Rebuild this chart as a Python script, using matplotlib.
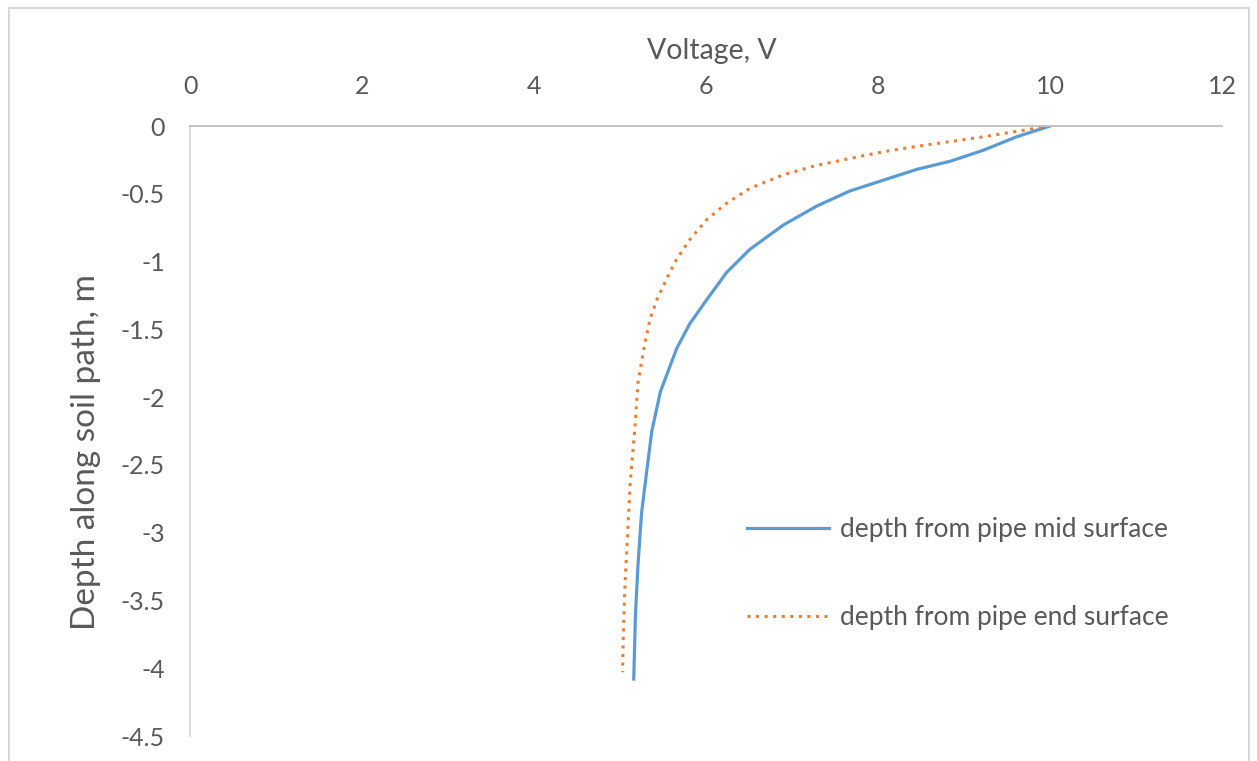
import matplotlib
matplotlib.use("Agg")
import matplotlib.pyplot as plt
from matplotlib.patches import Rectangle

# values
volt_mid = [10.0, 9.61, 9.22, 8.84, 8.45, 8.06, 7.67, 7.29, 6.90, 6.51, 6.24, 6.01,
            5.81, 5.66, 5.47, 5.37, 5.31, 5.25, 5.21, 5.18, 5.16]
depth_mid = [0, -0.08, -0.18, -0.26, -0.32, -0.40, -0.48, -0.59, -0.73, -0.91, -1.08, -1.28,
             -1.46, -1.64, -1.96, -2.25, -2.55, -2.86, -3.23, -3.60, -4.08]

volt_end = [10.0, 9.61, 9.22, 8.84, 8.45, 8.06, 7.67, 7.29, 6.90, 6.51, 6.24, 6.01,
            5.81, 5.66, 5.54, 5.43, 5.35, 5.29, 5.21, 5.17, 5.12, 5.09, 5.06, 5.04, 5.03]
depth_end = [0, -0.04, -0.08, -0.115, -0.15, -0.19, -0.24, -0.29, -0.36, -0.46, -0.57, -0.69,
             -0.84, -0.98, -1.13, -1.28, -1.42, -1.60, -1.89, -2.25, -2.62, -2.99, -3.35, -3.72, -4.03]

x_ticks = [0, 2, 4, 6, 8, 10, 12]
y_ticks = [0, -0.5, -1, -1.5, -2, -2.5, -3, -3.5, -4, -4.5]

plt.rcParams['font.family'] = ['Lato', 'DejaVu Sans']
grey = '#595959'

fig = plt.figure(figsize=(12.57, 7.61), dpi=100)
ax = fig.add_axes([190 / 1257, 1 - 736 / 761, (1222 - 190) / 1257, (736 - 126) / 761])

# chart area border
fig.patches.append(Rectangle((9 / 1257, -0.01), 1240 / 1257, 1 - 8 / 761 + 0.01,
                             transform=fig.transFigure, fill=False,
                             edgecolor='#d9d9d9', linewidth=1.5))

ax.plot(volt_mid, depth_mid, color='#5b9bd5', lw=2.3, label='depth from pipe mid surface')
ax.plot(volt_end, depth_end, color='#ed7d31', lw=2.2, linestyle=(0, (1, 1.8)),
        label='depth from pipe end surface')

ax.set_xlim(0, 12)
ax.set_ylim(-4.5, 0)
ax.set_xticks(x_ticks)
ax.set_xticklabels([str(t) for t in x_ticks])
ax.set_yticks(y_ticks)
ax.set_yticklabels([('%g' % t) for t in y_ticks])
ax.xaxis.tick_top()
ax.xaxis.set_label_position('top')
ax.tick_params(length=0, labelsize=18, colors=grey)
ax.tick_params(axis='x', pad=20)
ax.tick_params(axis='y', pad=18)

for s in ['right', 'bottom']:
    ax.spines[s].set_visible(False)
ax.spines['top'].set_color('#bfbfbf')
ax.spines['left'].set_color('#d9d9d9')
ax.spines['top'].set_linewidth(1.3)
ax.spines['left'].set_linewidth(1.3)

ax.set_xlabel('Voltage, V', fontsize=20.5, color=grey)
ax.xaxis.set_label_coords(0.506, 1.11)
ax.set_ylabel('Depth along soil path, m', fontsize=24, color=grey)
ax.yaxis.set_label_coords(-0.086, 0.466)

leg = ax.legend(loc='center left', bbox_to_anchor=(0.517, 0.266), frameon=False,
                fontsize=19, labelspacing=2.4, handlelength=3.1, handletextpad=0.4)
for t in leg.get_texts():
    t.set_color(grey)

fig.savefig('out.png', dpi=100)
